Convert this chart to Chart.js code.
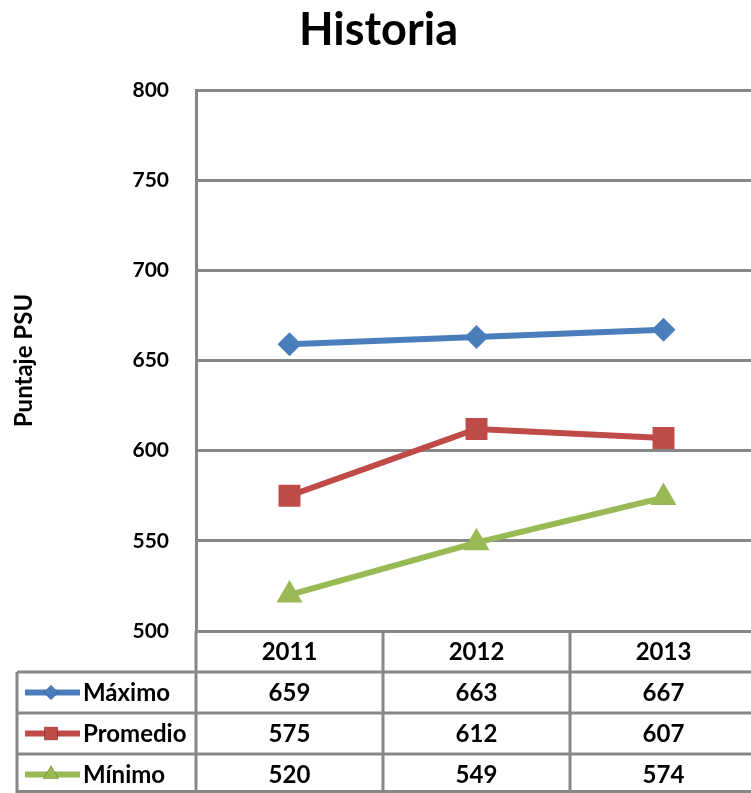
<!DOCTYPE html>
<html>
<head>
<meta charset="utf-8">
<script src="https://cdn.jsdelivr.net/npm/chart.js@4/dist/chart.umd.min.js"></script>
<style>
  html, body { margin: 0; padding: 0; background: #fff; overflow: hidden; }
  canvas { display: block; }
</style>
</head>
<body>
<canvas id="chart" width="760" height="793"></canvas>
<script>
// data
const years = ["2011", "2012", "2013"];
const maximo = [659, 663, 667];
const promedio = [575, 612, 607];
const minimo = [520, 549, 574];
const yMin = 500, yMax = 800, yStep = 50;

const gridColor = "#878787";

// draws the data table under the plot, using the x scale positions
const dataTable = {
  id: "dataTable",
  afterDraw(chart) {
    const ctx = chart.ctx;
    const x = chart.scales.x;
    const area = chart.chartArea;
    const step = x.getPixelForValue(1) - x.getPixelForValue(0);
    const top = area.bottom;
    const rowH = 41;
    const tableLeft = 17;
    const right = area.right;

    ctx.save();
    ctx.strokeStyle = gridColor;
    ctx.lineWidth = 3;

    // vertical column lines
    for (let i = 0; i < years.length; i++) {
      const bx = x.getPixelForValue(i) - step / 2;
      ctx.beginPath();
      ctx.moveTo(bx, top);
      ctx.lineTo(bx, top + rowH * 4);
      ctx.stroke();
    }
    // left border of series rows
    ctx.beginPath();
    ctx.moveTo(tableLeft, top + rowH);
    ctx.lineTo(tableLeft, top + rowH * 4);
    ctx.stroke();
    // horizontal lines
    for (let r = 1; r <= 4; r++) {
      const y = Math.min(top + rowH * r, 791.5);
      ctx.beginPath();
      ctx.moveTo(tableLeft, y);
      ctx.lineTo(right, y);
      ctx.stroke();
    }

    ctx.fillStyle = "#000";
    ctx.textAlign = "center";
    ctx.textBaseline = "middle";
    ctx.font = "bold 24px Lato";
    years.forEach((yr, i) => {
      ctx.fillText(yr, x.getPixelForValue(i), top + rowH / 2 + 1);
    });

    chart.data.datasets.forEach((ds, r) => {
      const cy = top + rowH * (r + 1.5);
      ds.data.forEach((v, i) => {
        ctx.textAlign = "center";
        ctx.fillText(String(v), x.getPixelForValue(i), cy + 1);
      });
      // legend key
      ctx.strokeStyle = ds.borderColor;
      ctx.lineWidth = 6;
      ctx.beginPath();
      ctx.moveTo(25, cy);
      ctx.lineTo(80, cy);
      ctx.stroke();
      Chart.helpers.drawPoint(ctx, {
        pointStyle: ds.pointStyle,
        radius: ds.pointRadius * 0.6,
        rotation: 0,
        borderWidth: 0
      }, 51, cy);
      ctx.fillStyle = ds.backgroundColor;
      ctx.fill();
      ctx.fillStyle = "#000";
      ctx.textAlign = "left";
      ctx.fillText(ds.label, 83, cy + 1);
    });
    ctx.restore();
  }
};

new Chart(document.getElementById("chart"), {
  type: "line",
  data: {
    labels: years,
    datasets: [
      {
        label: "Máximo",
        data: maximo,
        borderColor: "#4a7ebb",
        backgroundColor: "#4a7ebb",
        borderWidth: 6,
        pointStyle: "rectRot",
        pointRadius: 12,
        pointBorderWidth: 0
      },
      {
        label: "Promedio",
        data: promedio,
        borderColor: "#be4b48",
        backgroundColor: "#be4b48",
        borderWidth: 6,
        pointStyle: "rect",
        pointRadius: 15.5,
        pointBorderWidth: 0
      },
      {
        label: "Mínimo",
        data: minimo,
        borderColor: "#98b954",
        backgroundColor: "#98b954",
        borderWidth: 6,
        pointStyle: "triangle",
        pointRadius: 15,
        pointBorderWidth: 0
      }
    ]
  },
  options: {
    responsive: false,
    animation: false,
    events: [],
    layout: { autoPadding: false, padding: { left: 0, right: 3, top: 0, bottom: 162 } },
    plugins: {
      legend: { display: false },
      tooltip: { enabled: false },
      title: {
        display: true,
        text: "Historia",
        color: "#000",
        font: { family: "Lato", size: 45, weight: "bold" },
        padding: { top: 3, bottom: 33 }
      }
    },
    scales: {
      x: {
        display: false,
        offset: true
      },
      y: {
        min: yMin,
        max: yMax,
        afterFit(scale) { scale.width = 196; },
        ticks: {
          stepSize: yStep,
          padding: 27,
          color: "#000",
          font: { family: "Lato", size: 21, weight: "bold" }
        },
        grid: { color: gridColor, lineWidth: 3, drawTicks: false },
        border: { color: gridColor, width: 3 },
        title: {
          display: true,
          text: "Puntaje PSU",
          color: "#000",
          font: { family: "Lato", size: 24, weight: "bold" },
          padding: { top: 10, bottom: 0 }
        }
      }
    }
  },
  plugins: [dataTable]
});
</script>
</body>
</html>
